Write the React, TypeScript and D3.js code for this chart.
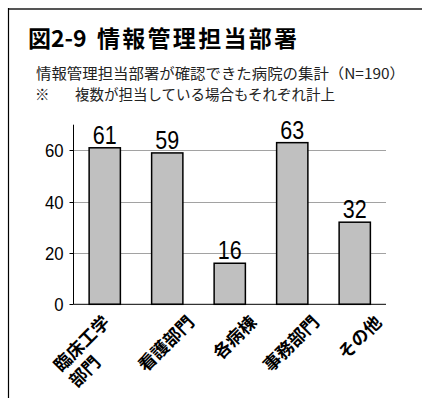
import React from "react";
import * as d3 from "d3";

const categories: string[][] = [["臨床工学", "部門"], ["看護部門"], ["各病棟"], ["事務部門"], ["その他"]];
const values: number[] = [61, 59, 16, 63, 32];
const yTicks: number[] = [0, 20, 40, 60];
const title1 = "図2-9";
const title2 = "情報管理担当部署";
const sub1 = "情報管理担当部署が確認できた病院の集計（N=190）";
const sub2a = "※";
const sub2b = "複数が担当している場合もそれぞれ計上";

const W = 422;
const H = 398;
const left = 73.5;
const right = 386;
const top = 124.7;
const bottom = 304.3;

const CJK = "'Noto Sans CJK JP', 'Noto Sans', sans-serif";
const NUM = "'Liberation Sans', Arial, sans-serif";

export default function App() {
  const x = d3
    .scaleBand<number>()
    .domain(d3.range(categories.length))
    .range([left, right])
    .paddingInner(0.5)
    .paddingOuter(0.25);
  const y = d3.scaleLinear().domain([0, 70]).range([bottom, top]);

  return (
    <svg
      width={W}
      height={H}
      style={{ position: "absolute", left: 0, top: 0, background: "#fff" }}
    >
      <rect x={0} y={0} width={W} height={H} fill="#fff" />
      {/* frame */}
      <line x1={8} y1={9} x2={W} y2={9} stroke="#555" strokeWidth={2} />
      <line x1={8.5} y1={8} x2={8.5} y2={H} stroke="#000" strokeWidth={1.2} />

      {/* titles */}
      <text x={28} y={47} fontFamily={CJK} fontWeight="bold" fontSize={23} fill="#000">
        {title1}
      </text>
      <text
        x={97}
        y={47}
        fontFamily={CJK}
        fontWeight="bold"
        fontSize={23}
        fill="#000"
        textLength={200}
        lengthAdjust="spacing"
      >
        {title2}
      </text>
      <text x={36} y={79} fontFamily={CJK} fontSize={14.5} fill="#222" textLength={369} lengthAdjust="spacingAndGlyphs">
        {sub1}
      </text>
      <text x={35} y={100} fontFamily={CJK} fontSize={14.5} fill="#222">
        {sub2a}
      </text>
      <text x={75} y={100} fontFamily={CJK} fontSize={14.5} fill="#222" textLength={260} lengthAdjust="spacingAndGlyphs">
        {sub2b}
      </text>

      {/* gridlines */}
      {yTicks
        .filter((t) => t > 0)
        .map((t) => (
          <line
            key={"g" + t}
            x1={left}
            x2={right}
            y1={Math.round(y(t)) + 0.5}
            y2={Math.round(y(t)) + 0.5}
            stroke="#444"
            strokeWidth={1}
            strokeDasharray="1 1"
          />
        ))}
      {/* ticks & tick labels */}
      {yTicks.map((t) => (
        <g key={"t" + t}>
          <line x1={left - 4} x2={left} y1={Math.round(y(t)) + 0.5} y2={Math.round(y(t)) + 0.5} stroke="#000" />
          <text
            transform={`translate(${left - 10},${y(t) + 7}) scale(0.88,1)`}
            textAnchor="end"
            fontFamily={NUM}
            fontSize={19}
            fill="#000"
          >
            {t}
          </text>
        </g>
      ))}

      {/* bars */}
      {values.map((v, i) => (
        <rect
          key={"b" + i}
          x={x(i)!}
          y={y(v)}
          width={x.bandwidth()}
          height={bottom - y(v)}
          fill="#c0c0c0"
          stroke="#000"
          strokeWidth={1.5}
        />
      ))}
      {/* value labels */}
      {values.map((v, i) => (
        <text
          key={"v" + i}
          transform={`translate(${x(i)! + x.bandwidth() / 2},${y(v) - 4}) scale(0.86,1)`}
          textAnchor="middle"
          fontFamily={NUM}
          fontSize={25}
          fill="#000"
        >
          {v}
        </text>
      ))}

      {/* axes */}
      <line x1={left} x2={left} y1={top} y2={bottom} stroke="#000" strokeWidth={1} />
      <line x1={left} x2={right} y1={bottom} y2={bottom} stroke="#000" strokeWidth={1} />

      {/* category labels */}
      {categories.map((lines, i) => {
        const cx = x(i)! + x.bandwidth() / 2;
        const ax = cx + 28 - (lines.length - 1) * 22;
        const ay = bottom + 19;
        const first = lines[0];
        return (
          <g key={"c" + i} transform={`translate(${ax},${ay}) rotate(-45)`}>
            {lines.map((ln, j) => (
              <text
                key={j}
                x={j === 0 ? 0 : -17.5 * first.length}
                y={j * 22}
                textAnchor={j === 0 ? "end" : "start"}
                fontFamily={CJK}
                fontWeight="bold"
                fontSize={17.5}
                fill="#000"
              >
                {ln}
              </text>
            ))}
          </g>
        );
      })}
    </svg>
  );
}
